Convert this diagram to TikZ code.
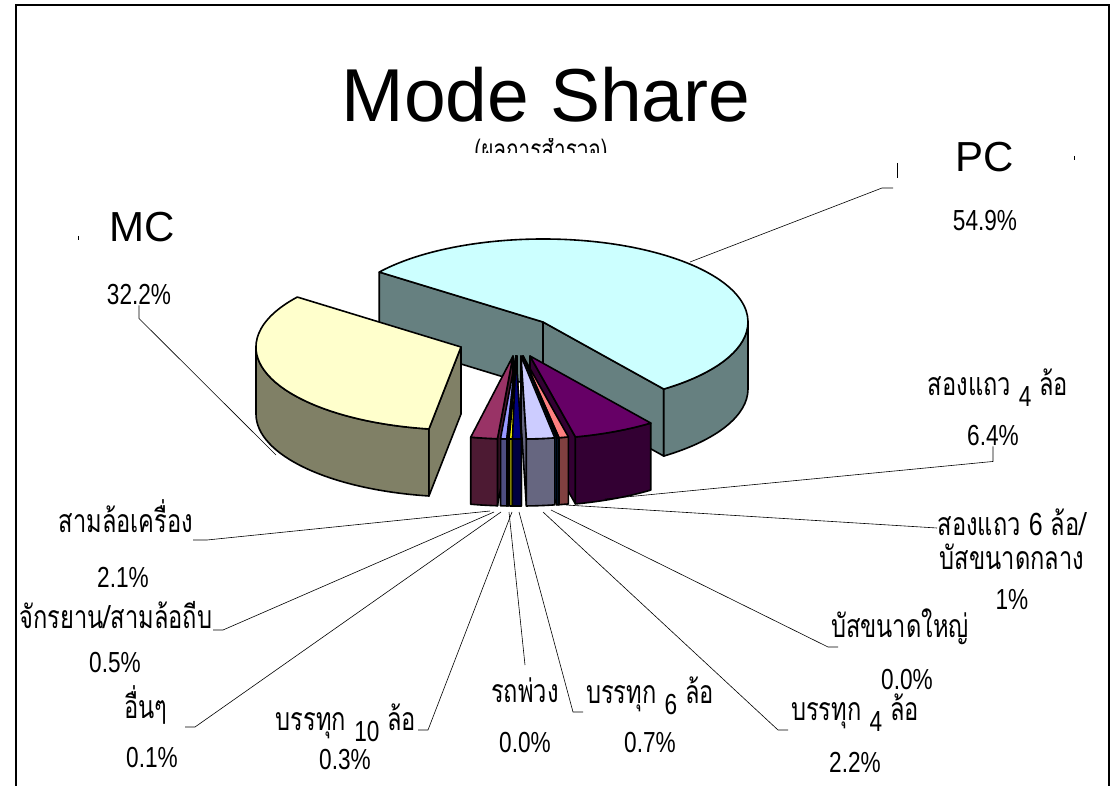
\documentclass[tikz,border=0pt]{standalone}
\usepackage{fontspec}
\setmainfont{Liberation Sans}
\newfontfamily\narrowfont[FakeStretch=0.78]{Liberation Sans}
\newfontfamily\thaifont[Script=Thai,FakeStretch=0.74]{Loma}
\definecolor{pctop}{HTML}{CCFFFF}
\definecolor{pcside}{HTML}{668080}
\definecolor{mctop}{HTML}{FFFFCC}
\definecolor{mcside}{HTML}{808066}
\definecolor{sfourtop}{HTML}{660066}
\definecolor{sfourside}{HTML}{330033}
\definecolor{ssixtop}{HTML}{FF8080}
\definecolor{ssixside}{HTML}{804040}
\definecolor{bustop}{HTML}{0066CC}
\definecolor{busside}{HTML}{003366}
\definecolor{tfourtop}{HTML}{CCCCFF}
\definecolor{tfourside}{HTML}{666680}
\definecolor{tsixtop}{HTML}{000080}
\definecolor{tsixside}{HTML}{000040}
\definecolor{ttentop}{HTML}{FFFF00}
\definecolor{ttenside}{HTML}{808000}
\definecolor{othtop}{HTML}{00FFFF}
\definecolor{othside}{HTML}{008080}
\definecolor{biketop}{HTML}{9999FF}
\definecolor{bikeside}{HTML}{4D4D80}
\definecolor{tritop}{HTML}{993366}
\definecolor{triside}{HTML}{4D1A33}
\tikzset{
  slice/.style={draw=black, line width=1.6pt, line join=round},
  leader/.style={line width=0.6pt},
  pct/.style={font=\narrowfont\fontsize{29}{32}\selectfont, inner sep=0pt},
  thai/.style={font=\thaifont\fontsize{32}{36}\selectfont, inner sep=0pt, anchor=base},
  big/.style={font=\fontsize{42}{46}\selectfont, inner sep=0pt},
}
\newcommand\lowdig[1]{\raisebox{-11pt}{\narrowfont\fontsize{29}{32}\selectfont #1}}
\begin{document}
\begin{tikzpicture}[x=1pt,y=-1pt]
\useasboundingbox (0,0) rectangle (1111,786);
\draw[line width=1.4pt] (16,786) -- (16,5) -- (1109,5) -- (1109,786);

\node[font=\fontsize{75}{80}\selectfont, anchor=base] (title) at (546,122) {Mode Share};
\begin{scope}
\clip (440,139) rectangle (660,153);
\node[thai, font=\thaifont\fontsize{28}{30}\selectfont] (subtitle) at (541,160) {(ผลการสำรวจ)};
\end{scope}

% PC
\filldraw[slice,fill=pcside] (543,322) -- ++(217:205 and 83) -- ++(0,67) -- (543,389) -- cycle;
\filldraw[slice,fill=pcside] (543,322) -- ++(53.9:205 and 83) -- ++(0,67) -- (543,389) -- cycle;
\filldraw[slice,fill=pcside] (543,322) ++(0:205 and 83) arc[start angle=0,end angle=53.9,x radius=205,y radius=83] -- ++(0,67) arc[start angle=53.9,end angle=0,x radius=205,y radius=83] -- cycle;
\filldraw[slice,fill=pctop] (543,322) -- ++(217:205 and 83) arc[start angle=217,end angle=413.9,x radius=205,y radius=83] -- cycle;

% MC
\filldraw[slice,fill=mcside] (461,347) -- ++(99:205 and 83) -- ++(0,67) -- (461,414) -- cycle;
\filldraw[slice,fill=mcside] (461,347) ++(99:205 and 83) arc[start angle=99,end angle=180,x radius=205,y radius=83] -- ++(0,67) arc[start angle=180,end angle=99,x radius=205,y radius=83] -- cycle;
\filldraw[slice,fill=mctop] (461,347) -- ++(99:205 and 83) arc[start angle=99,end angle=217,x radius=205,y radius=83] -- cycle;

% small slices
\foreach \cx/\sa/\ea/\va/\ctop/\cside in {530/53.9/77.2/77.2/sfourtop/sfourside,
  523/77.2/79.9/79.9/ssixtop/ssixside, 523/79.9/80.5/80.5/bustop/busside,
  521/80.5/88.5/88.5/tfourtop/tfourside, 513/94.35/101.9/94.35/tritop/triside,
  516/92.55/94.35/92.55/biketop/bikeside, 516/92.2/92.55/92.2/othtop/othside,
  517/91/92.2/91/ttentop/ttenside, 516/88.5/91/88.5/tsixtop/tsixside}{
  \filldraw[slice,fill=\cside] (\cx,356) -- ++(\va:205 and 83) -- ++(0,67) -- (\cx,423) -- cycle;
  \filldraw[slice,fill=\cside] (\cx,356) ++(\sa:205 and 83) arc[start angle=\sa,end angle=\ea,x radius=205,y radius=83] -- ++(0,67) arc[start angle=\ea,end angle=\sa,x radius=205,y radius=83] -- cycle;
  \filldraw[slice,fill=\ctop] (\cx,356) -- ++(\sa:205 and 83) arc[start angle=\sa,end angle=\ea,x radius=205,y radius=83] -- cycle;
}

\coordinate (pPC) at (690,262);
\coordinate (pMC) at (276,455);
\coordinate (pSfour) at (605,499);
\coordinate (pSsix) at (566,505);
\coordinate (pBus) at (551,510);
\coordinate (pTfour) at (543,512);
\coordinate (pTsix) at (519,512);
\coordinate (pTrail) at (509,512);
\coordinate (pTten) at (512,512);
\coordinate (pOth) at (501,512);
\coordinate (pBike) at (494,512);
\coordinate (pTri) at (490,511);

\node[big] (pc) at (985,157) {PC};
\node[pct] (pcpct) at (985,221) {54.9\%};
\node[big] (mc) at (142,227) {MC};
\node[pct] (mcpct) at (139,295) {32.2\%};
\node[thai] (sfour) at (998,395) {สองแถว \lowdig{4} ล้อ};
\node[pct] (sfourpct) at (993,436) {6.4\%};
\node[thai] (ssix) at (1012,535) {สองแถว {\narrowfont 6} ล้อ/};
\node[thai] (ssixb) at (1012,569) {บัสขนาดกลาง};
\node[pct] (ssixpct) at (1012,600) {1\%};
\node[thai] (bus) at (900,637) {บัสขนาดใหญ่};
\node[pct] (buspct) at (907,680) {0.0\%};
\node[thai] (tfour) at (855,720) {บรรทุก \lowdig{4} ล้อ};
\node[pct] (tfourpct) at (855,762) {2.2\%};
\node[thai] (tsix) at (650,703) {บรรทุก \lowdig{6} ล้อ};
\node[pct] (tsixpct) at (650,743) {0.7\%};
\node[thai] (trail) at (525,702) {รถพ่วง};
\node[pct] (trailpct) at (525,743) {0.0\%};
\node[thai] (tten) at (346,730) {บรรทุก \lowdig{10} ล้อ};
\node[pct] (ttenpct) at (345,760) {0.3\%};
\node[thai] (oth) at (146,718) {อื่นๆ};
\node[pct] (othpct) at (152,758) {0.1\%};
\node[thai] (bike) at (116,628) {จักรยาน/สามล้อถีบ};
\node[pct] (bikepct) at (115,663) {0.5\%};
\node[thai] (tri) at (126,532) {สามล้อเครื่อง};
\node[pct] (tripct) at (123,577) {2.1\%};

\draw[leader] (pPC) -- (882,188) -- (893,188);
\draw[leader] (897,163) -- (897,178);
\draw[leader] (1074,156) -- (1074,160);
\draw[leader] (78,236) -- (78,240);
\draw[leader] (mcpct.south) -- ++(0,13) -- (pMC);
\draw[leader] (sfourpct.south) -- ++(0,15) -- (pSfour);
\draw[leader] (937,528) -- (pSsix);
\draw[leader] (838,647) -- (828,647) -- (pBus);
\draw[leader] (788,730) -- (778,730) -- (pTfour);
\draw[leader] (583,712) -- (573,712) -- (pTsix);
\draw[leader] (525,665) -- (pTrail);
\draw[leader] (418,730) -- (428,730) -- (pTten);
\draw[leader] (185,727) -- (195,727) -- (pOth);
\draw[leader] (213,630) -- (223,630) -- (pBike);
\draw[leader] (193,540) -- (207,540) -- (pTri);
\end{tikzpicture}
\end{document}
